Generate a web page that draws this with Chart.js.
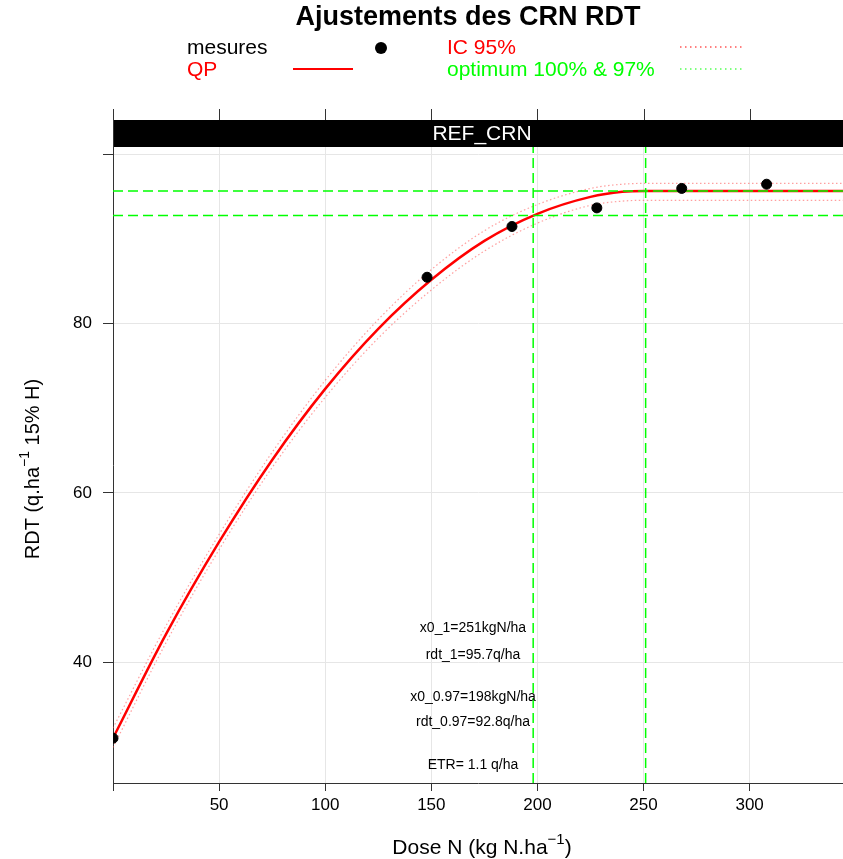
<!DOCTYPE html>
<html>
<head>
<meta charset="utf-8">
<script src="https://cdn.jsdelivr.net/npm/chart.js@4.4.1/dist/chart.umd.min.js"></script>
<style>
  html, body { margin: 0; padding: 0; background: #fff; }
  #wrap { width: 843px; height: 859px; }
</style>
</head>
<body>
<div id="wrap"><canvas id="chart" width="843" height="859"></canvas></div>
<script>
// measured yields
const doseN = [0, 148, 188, 228, 268, 308];
const rdtMes = [31.0, 85.5, 91.5, 93.7, 96.0, 96.5];

// fitted QP curve and its 95% band
const curveX = [0, 25, 50, 75, 100, 125, 150, 175, 200, 225, 240, 251, 300, 344];
const curveQP = [31.0, 43.3, 54.2, 63.9, 72.3, 79.4, 85.2, 89.8, 93.0, 95.0, 95.6, 95.7, 95.7, 95.7];
const ciHigh = [32.2, 44.3, 55.1, 64.8, 73.3, 80.5, 86.4, 91.0, 94.1, 96.0, 96.5, 96.6, 96.6, 96.6];
const ciLow = [29.9, 42.3, 53.3, 63.0, 71.3, 78.3, 84.0, 88.6, 91.9, 94.0, 94.5, 94.6, 94.6, 94.6];

// optimum 100% and 97%
const x0_1 = 251, rdt_1 = 95.7;
const x0_97 = 198, rdt_97 = 92.8;
const etr = 1.1;

const xTicks = [0, 50, 100, 150, 200, 250, 300];
const yTicks = [40, 60, 80, 100];
const xMin = 0, xMax = 344, yMin = 25.7, yMax = 100.9;

const FONT = "'Liberation Sans', Arial, Helvetica, sans-serif";
const RED = '#ff0000';
const GREEN = '#00ff00';

const pts = (xs, ys) => xs.map((x, i) => ({ x: x, y: ys[i] }));

function textSup(ctx, parts, x, y, size) {
  // parts: [text, superscript, text], drawn centred on x
  const big = size + 'px ' + FONT;
  const small = Math.round(size * 0.7) + 'px ' + FONT;
  ctx.font = big;
  const w0 = ctx.measureText(parts[0]).width;
  const w2 = ctx.measureText(parts[2]).width;
  ctx.font = small;
  const w1 = ctx.measureText(parts[1]).width;
  let cx = x - (w0 + w1 + w2) / 2;
  ctx.textAlign = 'left';
  ctx.textBaseline = 'middle';
  ctx.font = big;
  ctx.fillText(parts[0], cx, y);
  cx += w0;
  ctx.font = small;
  ctx.fillText(parts[1], cx, y - size * 0.4);
  cx += w1;
  ctx.font = big;
  ctx.fillText(parts[2], cx, y);
}

const decor = {
  id: 'decor',
  afterDraw(chart) {
    const ctx = chart.ctx;
    const a = chart.chartArea;
    const xs = chart.scales.x;
    ctx.save();

    // title
    ctx.fillStyle = '#000';
    ctx.font = 'bold 27px ' + FONT;
    ctx.textAlign = 'center';
    ctx.textBaseline = 'middle';
    ctx.fillText('Ajustements des CRN RDT', 468, 18);

    // key
    ctx.font = '21px ' + FONT;
    ctx.textAlign = 'left';
    ctx.fillStyle = '#000';
    ctx.fillText('mesures', 187, 48);
    ctx.fillStyle = RED;
    ctx.fillText('QP', 187, 70);
    ctx.fillText('IC 95%', 447, 48);
    ctx.fillStyle = GREEN;
    ctx.fillText('optimum 100% & 97%', 447, 70);

    ctx.fillStyle = '#000';
    ctx.beginPath();
    ctx.arc(381, 48, 6, 0, Math.PI * 2);
    ctx.fill();

    ctx.strokeStyle = RED;
    ctx.lineWidth = 2;
    ctx.beginPath();
    ctx.moveTo(293, 69);
    ctx.lineTo(353, 69);
    ctx.stroke();

    ctx.lineWidth = 1.2;
    ctx.setLineDash([1.5, 3.5]);
    ctx.beginPath();
    ctx.moveTo(680, 47);
    ctx.lineTo(745, 47);
    ctx.stroke();
    ctx.strokeStyle = GREEN;
    ctx.beginPath();
    ctx.moveTo(680, 69);
    ctx.lineTo(745, 69);
    ctx.stroke();
    ctx.setLineDash([]);

    // strip (panel is cut at the right edge of the picture)
    const mid = 482;
    ctx.fillStyle = '#000';
    ctx.fillRect(a.left, 120, a.right - a.left, a.top - 120);
    ctx.fillStyle = '#fff';
    ctx.font = '21px ' + FONT;
    ctx.textAlign = 'center';
    ctx.fillText('REF_CRN', mid, 134);

    // top ticks
    ctx.strokeStyle = '#333';
    ctx.lineWidth = 1;
    ctx.beginPath();
    xTicks.forEach(v => {
      const px = Math.round(xs.getPixelForValue(v)) + 0.5;
      ctx.moveTo(px, 109);
      ctx.lineTo(px, 120);
    });
    ctx.moveTo(a.left + 0.5, 109);
    ctx.lineTo(a.left + 0.5, a.top);
    ctx.stroke();

    // axis titles
    ctx.fillStyle = '#000';
    textSup(ctx, ['Dose N (kg N.ha', '\u22121', ')'], mid, 848, 21);
    ctx.save();
    ctx.translate(33, 469);
    ctx.rotate(-Math.PI / 2);
    textSup(ctx, ['RDT (q.ha', '\u22121', ' 15% H)'], 0, 0, 20);
    ctx.restore();

    // fit summary
    ctx.font = '14px ' + FONT;
    ctx.textAlign = 'center';
    ctx.textBaseline = 'middle';
    const tx = 473;
    ctx.fillText('x0_1=' + x0_1 + 'kgN/ha', tx, 628);
    ctx.fillText('rdt_1=' + rdt_1 + 'q/ha', tx, 655);
    ctx.fillText('x0_0.97=' + x0_97 + 'kgN/ha', tx, 697);
    ctx.fillText('rdt_0.97=' + rdt_97 + 'q/ha', tx, 722);
    ctx.fillText('ETR= ' + etr + ' q/ha', tx, 765);

    ctx.restore();
  }
};

const dashGreen = {
  borderColor: GREEN, borderWidth: 1.5, borderDash: [10, 5],
  pointRadius: 0, showLine: true, fill: false
};

new Chart(document.getElementById('chart'), {
  type: 'scatter',
  data: {
    datasets: [
      {
        label: 'mesures',
        data: pts(doseN, rdtMes),
        backgroundColor: '#000', borderColor: '#000',
        pointRadius: 5, pointHoverRadius: 5, order: 0
      },
      Object.assign({ label: 'opt100 h', data: [{ x: xMin, y: rdt_1 }, { x: xMax, y: rdt_1 }], order: 1 }, dashGreen),
      Object.assign({ label: 'opt97 h', data: [{ x: xMin, y: rdt_97 }, { x: xMax, y: rdt_97 }], order: 1 }, dashGreen),
      Object.assign({ label: 'opt100 v', data: [{ x: x0_1, y: yMin }, { x: x0_1, y: yMax }], order: 1 }, dashGreen),
      Object.assign({ label: 'opt97 v', data: [{ x: x0_97, y: yMin }, { x: x0_97, y: yMax }], order: 1 }, dashGreen),
      {
        label: 'QP',
        data: pts(curveX, curveQP),
        showLine: true, borderColor: RED, borderWidth: 2.5,
        pointRadius: 0, cubicInterpolationMode: 'monotone', order: 2
      },
      {
        label: 'IC haut',
        data: pts(curveX, ciHigh),
        showLine: true, borderColor: 'rgba(255,80,80,0.55)', borderWidth: 1.2,
        borderDash: [1.5, 2.5], pointRadius: 0, cubicInterpolationMode: 'monotone', order: 3
      },
      {
        label: 'IC bas',
        data: pts(curveX, ciLow),
        showLine: true, borderColor: 'rgba(255,80,80,0.55)', borderWidth: 1.2,
        borderDash: [1.5, 2.5], pointRadius: 0, cubicInterpolationMode: 'monotone', order: 3
      }
    ]
  },
  options: {
    responsive: false,
    animation: false,
    layout: { autoPadding: false, padding: { top: 147, right: 0, bottom: 0, left: 0 } },
    plugins: {
      legend: { display: false },
      title: { display: false },
      tooltip: { enabled: false }
    },
    scales: {
      x: {
        type: 'linear', min: xMin, max: xMax,
        afterBuildTicks: s => { s.ticks = xTicks.map(v => ({ value: v })); },
        afterFit: s => { s.height = 76; s.paddingLeft = 0; s.paddingRight = 0; },
        grid: { color: '#e6e6e6', tickColor: '#333', tickLength: 8 },
        border: { color: '#333', width: 1 },
        ticks: {
          color: '#000', font: { family: FONT, size: 17 }, padding: 4,
          maxRotation: 0, autoSkip: false,
          callback: v => (v === 0 ? '' : v)
        }
      },
      y: {
        type: 'linear', min: yMin, max: yMax,
        afterBuildTicks: s => { s.ticks = yTicks.map(v => ({ value: v })); },
        afterFit: s => { s.width = 113; s.paddingTop = 0; s.paddingBottom = 0; },
        grid: { color: '#e6e6e6', tickColor: '#333', tickLength: 10 },
        border: { color: '#333', width: 1 },
        ticks: {
          color: '#000', font: { family: FONT, size: 17 }, padding: 11,
          autoSkip: false,
          callback: v => (v === 100 ? '' : v)
        }
      }
    }
  },
  plugins: [decor]
});
</script>
</body>
</html>
